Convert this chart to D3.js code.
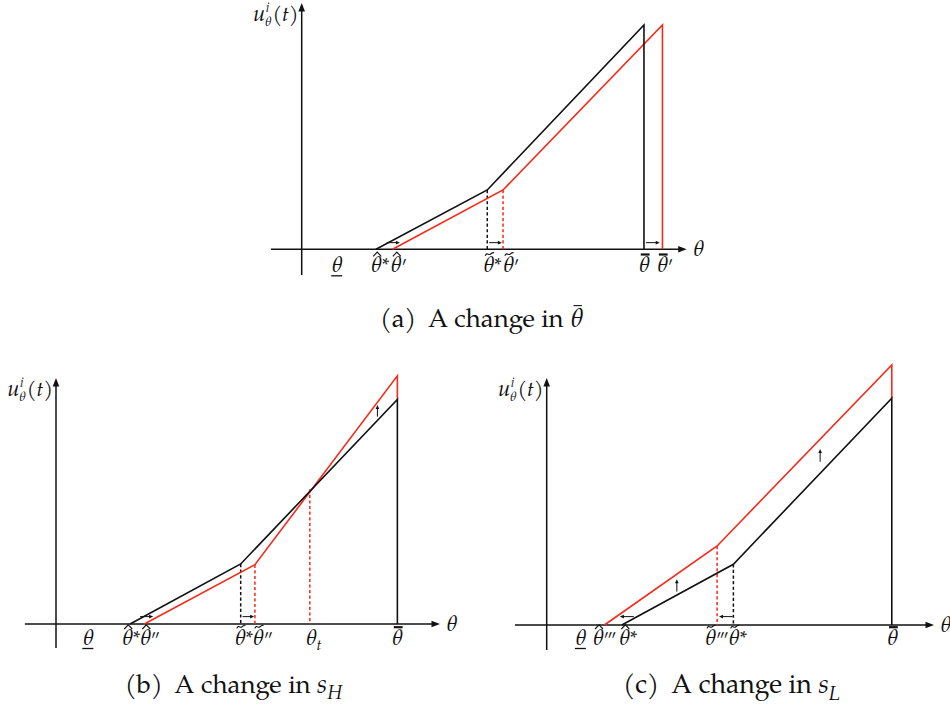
<!DOCTYPE html>
<html>
<head>
<meta charset="utf-8">
<script src="https://cdn.jsdelivr.net/npm/d3@7"></script>
<style>
  body { margin: 0; background: #fff; }
  svg { display: block; }
  .m { font-family: "TeX Gyre Pagella", "Liberation Serif", serif; font-style: italic; }
  .r { font-family: "TeX Gyre Pagella", "Liberation Serif", serif; }
</style>
</head>
<body>
<svg id="fig" width="950" height="710"></svg>
<script>
// θ runs from 0 at the vertical axis to 100 at the arrow tip; u likewise from 0 on the θ axis to 100 at the top.

// (a) a change in θ̄
const blackA = [[19.3, 0], [48.2, 24.1], [88.9, 91.1], [88.9, 0]];
const redA   = [[23.6, 0], [52.3, 24.1], [93.7, 91.1], [93.7, 0]];
const guidesA = [{ x: 48.2, y: 24.1, c: "k" }, { x: 52.3, y: 24.1, c: "r" }];
const shiftsA = [[22.1, 2.7, 25.5, 2.7], [48.7, 2.7, 52.0, 2.7], [89.4, 2.7, 93.0, 2.7]];
const ticksA = [
  { at: 9.1,  acc: "under" },
  { at: 19.3, acc: "hat",   sup: "*" },
  { at: 24.4, acc: "hat",   sup: "′" },
  { at: 48.5, acc: "tilde", sup: "*" },
  { at: 53.6, acc: "tilde", sup: "′" },
  { at: 88.9, acc: "bar" },
  { at: 93.6, acc: "bar",   sup: "′" }
];

// (b) a change in s_H
const blackB = [[19.3, 0], [48.1, 24.4], [88.9, 91.3], [88.9, 0]];
const redB   = [[23.0, 0], [51.8, 24.1], [88.9, 100.9], [88.9, 91.3]];
const guidesB = [{ x: 48.1, y: 24.4, c: "k" }, { x: 51.8, y: 24.1, c: "r" }, { x: 66.1, y: 54.8, c: "r" }];
const shiftsB = [[21.9, 3.0, 25.3, 3.0], [48.6, 3.0, 51.6, 3.0], [83.7, 84.3, 83.7, 89.0]];
const ticksB = [
  { at: 8.3,  acc: "under" },
  { at: 18.5, acc: "hat",   sup: "*" },
  { at: 23.2, acc: "hat",   sup: "′′" },
  { at: 47.9, acc: "tilde", sup: "*" },
  { at: 52.6, acc: "tilde", sup: "′′" },
  { at: 66.4, sub: "t" },
  { at: 88.8, acc: "bar" }
];

// (c) a change in s_L
const blackC = [[19.4, 0], [48.2, 24.6], [89.1, 91.8], [89.1, 0]];
const redC   = [[14.9, 0], [44.0, 32.0], [89.1, 105.3], [89.1, 91.8]];
const guidesC = [{ x: 44.0, y: 32.0, c: "r" }, { x: 48.2, y: 24.6, c: "k" }];
const shiftsC = [[22.5, 3.4, 18.9, 3.4], [48.0, 3.4, 44.5, 3.4], [33.6, 13.5, 33.6, 18.5], [70.6, 66.1, 70.6, 71.3]];
const ticksC = [
  { at: 8.7,  acc: "under" },
  { at: 13.2, acc: "hat",   sup: "′′′" },
  { at: 20.0, acc: "hat",   sup: "*" },
  { at: 42.2, acc: "tilde", sup: "′′′" },
  { at: 48.3, acc: "tilde", sup: "*" },
  { at: 89.2, acc: "bar" }
];

const captions = [
  { tag: "(a)", sym: "thetabar" },
  { tag: "(b)", sym: "s", sub: "H" },
  { tag: "(c)", sym: "s", sub: "L" }
];

const BLACK = "#111";
const RED = "#f52a1a";

const svg = d3.select("#fig");

// panel frames: pixel spots for θ = 0 / 100 and u = 0 / 100
const layout = [
  { ox: 301.7, tx: 686.7, oy: 249.3, ty: 3,   left: -8.0, bottom: -10.4, tickDy: 23, cap: { x: 481.5, y: 327, w: 203 } },
  { ox: 56,    tx: 440,   oy: 624,   ty: 378, left: -8.1, bottom: -9.8,  tickDy: 21, cap: { x: 234,   y: 693, w: 218 } },
  { ox: 546.7, tx: 934,   oy: 625,   ty: 378, left: -8.2, bottom: -10.1, tickDy: 20, cap: { x: 731.5, y: 693, w: 217 } }
];

const panels = [
  { black: blackA, red: redA, guides: guidesA, shifts: shiftsA, ticks: ticksA },
  { black: blackB, red: redB, guides: guidesB, shifts: shiftsB, ticks: ticksB },
  { black: blackC, red: redC, guides: guidesC, shifts: shiftsC, ticks: ticksC }
];

const FS = 22;

function thetaLabel(g, cx, base, o) {
  const grp = g.append("g");
  const t = grp.append("text").attr("class", "m").attr("x", cx).attr("y", base)
    .attr("text-anchor", "middle").attr("font-size", FS).attr("fill", BLACK).text("θ");
  const w = t.node().getComputedTextLength();
  const right = cx + w / 2;
  const top = base - 0.70 * FS;
  const mid = cx + 1.2;
  if (o.acc === "hat") {
    grp.append("path").attr("d", `M${mid - 4},${top - 0.6}L${mid},${top - 4.8}L${mid + 4},${top - 0.6}`)
      .attr("fill", "none").attr("stroke", BLACK).attr("stroke-width", 1.1);
  } else if (o.acc === "tilde") {
    grp.append("path").attr("d", `M${mid - 4.4},${top - 1.2}C${mid - 2.8},${top - 5.2} ${mid - 0.8},${top - 1.2} ${mid + 0.6},${top - 2.6}S${mid + 3},${top - 4.6} ${mid + 4.4},${top - 4.2}`)
      .attr("fill", "none").attr("stroke", BLACK).attr("stroke-width", 1.1);
  } else if (o.acc === "bar") {
    grp.append("line").attr("x1", mid - 4.4).attr("x2", mid + 4.4).attr("y1", top - 2.4).attr("y2", top - 2.4)
      .attr("stroke", BLACK).attr("stroke-width", 2.2);
  } else if (o.acc === "under") {
    grp.append("line").attr("x1", cx - 5.5).attr("x2", cx + 5.5).attr("y1", base + 3.5).attr("y2", base + 3.5)
      .attr("stroke", BLACK).attr("stroke-width", 1.3);
  }
  if (o.sup === "*") {
    grp.append("text").attr("class", "r").attr("x", right + 0.5).attr("y", base - 1)
      .attr("font-size", 19).attr("fill", BLACK).text("*");
  } else if (o.sup) {
    grp.append("text").attr("class", "r").attr("x", right + 0.6).attr("y", base + 0.5)
      .attr("font-size", 18).attr("letter-spacing", -1.6).attr("fill", BLACK).text(o.sup);
  }
  if (o.sub) {
    grp.append("text").attr("class", "m").attr("x", right).attr("y", base + 5)
      .attr("font-size", 15).attr("fill", BLACK).text(o.sub);
  }
}

function arrowHead(g, x, y, dx, dy, len, half, color) {
  const n = Math.hypot(dx, dy), ux = dx / n, uy = dy / n;
  const bx = x - ux * len, by = y - uy * len;
  g.append("path")
    .attr("d", `M${x},${y}L${bx - uy * half},${by + ux * half}L${bx + uy * half},${by - ux * half}Z`)
    .attr("fill", color);
}

// u^i_θ(t), right edge placed just left of the vertical axis
function yTitle(g, right, base) {
  const grp = g.append("g");
  const u = grp.append("text").attr("class", "m").attr("x", 0).attr("y", base)
    .attr("font-size", 22).attr("fill", BLACK).text("u");
  const uw = u.node().getComputedTextLength();
  const sup = grp.append("text").attr("class", "m").attr("x", uw + 0.5).attr("y", base - 9)
    .attr("font-size", 13).attr("fill", BLACK).text("i");
  const sub = grp.append("text").attr("class", "m").attr("x", uw - 0.5).attr("y", base + 5)
    .attr("font-size", 13).attr("fill", BLACK).text("θ");
  const sw = Math.max(sup.node().getComputedTextLength() + 0.5, sub.node().getComputedTextLength() - 0.5);
  const par = grp.append("text").attr("class", "r").attr("x", uw + sw + 1.5).attr("y", base)
    .attr("font-size", 21).attr("fill", BLACK);
  par.append("tspan").text("(");
  par.append("tspan").attr("class", "m").text("t");
  par.append("tspan").text(")");
  const total = uw + sw + 1.5 + par.node().getComputedTextLength();
  grp.attr("transform", `translate(${right - total},0)`);
}

panels.forEach((p, i) => {
  const L = layout[i];
  const x = d3.scaleLinear().domain([0, 100]).range([L.ox, L.tx]);
  const y = d3.scaleLinear().domain([0, 100]).range([L.oy, L.ty]);
  const g = svg.append("g");
  const line = d3.line().x(d => x(d[0])).y(d => y(d[1]));

  // axes
  g.append("line").attr("x1", x(L.left)).attr("x2", x(100) - 4).attr("y1", y(0)).attr("y2", y(0))
    .attr("stroke", BLACK).attr("stroke-width", 1.5);
  arrowHead(g, x(100), y(0), 1, 0, 8.5, 3.3, BLACK);
  g.append("line").attr("x1", x(0)).attr("x2", x(0)).attr("y1", y(L.bottom)).attr("y2", y(100) + 4)
    .attr("stroke", BLACK).attr("stroke-width", 1.5);
  arrowHead(g, x(0), y(100), 0, -1, 8.5, 3.3, BLACK);

  // dashed drop lines
  p.guides.forEach(d => {
    g.append("line").attr("x1", x(d.x)).attr("x2", x(d.x)).attr("y1", y(d.y)).attr("y2", y(0))
      .attr("stroke", d.c === "r" ? RED : BLACK).attr("stroke-width", 1.5).attr("stroke-dasharray", "3.2,2.4");
  });

  // red (new) schedule first, black (original) on top
  g.append("path").attr("d", line(p.red)).attr("fill", "none").attr("stroke", RED)
    .attr("stroke-width", 1.6).attr("stroke-linejoin", "miter");
  g.append("path").attr("d", line(p.black)).attr("fill", "none").attr("stroke", BLACK)
    .attr("stroke-width", 1.6).attr("stroke-linejoin", "miter");

  // small shift arrows
  p.shifts.forEach(s => {
    const x1 = x(s[0]), y1 = y(s[1]), x2 = x(s[2]), y2 = y(s[3]);
    const dx = x2 - x1, dy = y2 - y1, n = Math.hypot(dx, dy);
    g.append("line").attr("x1", x1).attr("y1", y1).attr("x2", x2 - dx / n * 2.5).attr("y2", y2 - dy / n * 2.5)
      .attr("stroke", BLACK).attr("stroke-width", 1);
    arrowHead(g, x2, y2, dx, dy, 4, 1.8, BLACK);
  });

  // θ tick labels
  p.ticks.forEach(t => thetaLabel(g, x(t.at), y(0) + L.tickDy, t));

  // axis titles
  g.append("text").attr("class", "m").attr("x", x(100) + 6).attr("y", y(0) + 7)
    .attr("font-size", FS).attr("fill", BLACK).text("θ");
  yTitle(g, x(0) - 3, y(100) + 18);

  // caption, sized so it spans its slot under the panel
  const c = captions[i];
  const cg = svg.append("g");
  const ct = cg.append("text").attr("class", "r").attr("x", 0).attr("y", 0).attr("font-size", 20).attr("fill", BLACK);
  ct.append("tspan").text(c.tag);
  const gap = ct.append("tspan").attr("dx", 9).text("A change in ");
  let subT = null;
  if (c.sym === "thetabar") {
    ct.append("tspan").attr("class", "m").text("θ");
  } else {
    ct.append("tspan").attr("class", "m").text(c.sym);
    subT = ct.append("tspan").attr("class", "m").attr("dy", 5).attr("font-size", 15).text(c.sub);
  }
  const fs = 20 * L.cap.w / ct.node().getBBox().width;
  ct.attr("font-size", fs);
  gap.attr("dx", 9 * fs / 20);
  if (subT) subT.attr("font-size", 15 * fs / 20).attr("dy", 5 * fs / 20);
  const cw = ct.node().getBBox().width;
  cg.attr("transform", `translate(${L.cap.x - cw / 2},${L.cap.y})`);
  if (c.sym === "thetabar") {
    const n = ct.text().length;
    const ext = ct.node().getExtentOfChar(n - 1);
    const m = ext.x + ext.width / 2 + 1.3;
    cg.append("line").attr("x1", m - 4.2).attr("x2", m + 4.2).attr("y1", -0.83 * fs).attr("y2", -0.83 * fs)
      .attr("stroke", BLACK).attr("stroke-width", 1.1);
  }
});
</script>
</body>
</html>
